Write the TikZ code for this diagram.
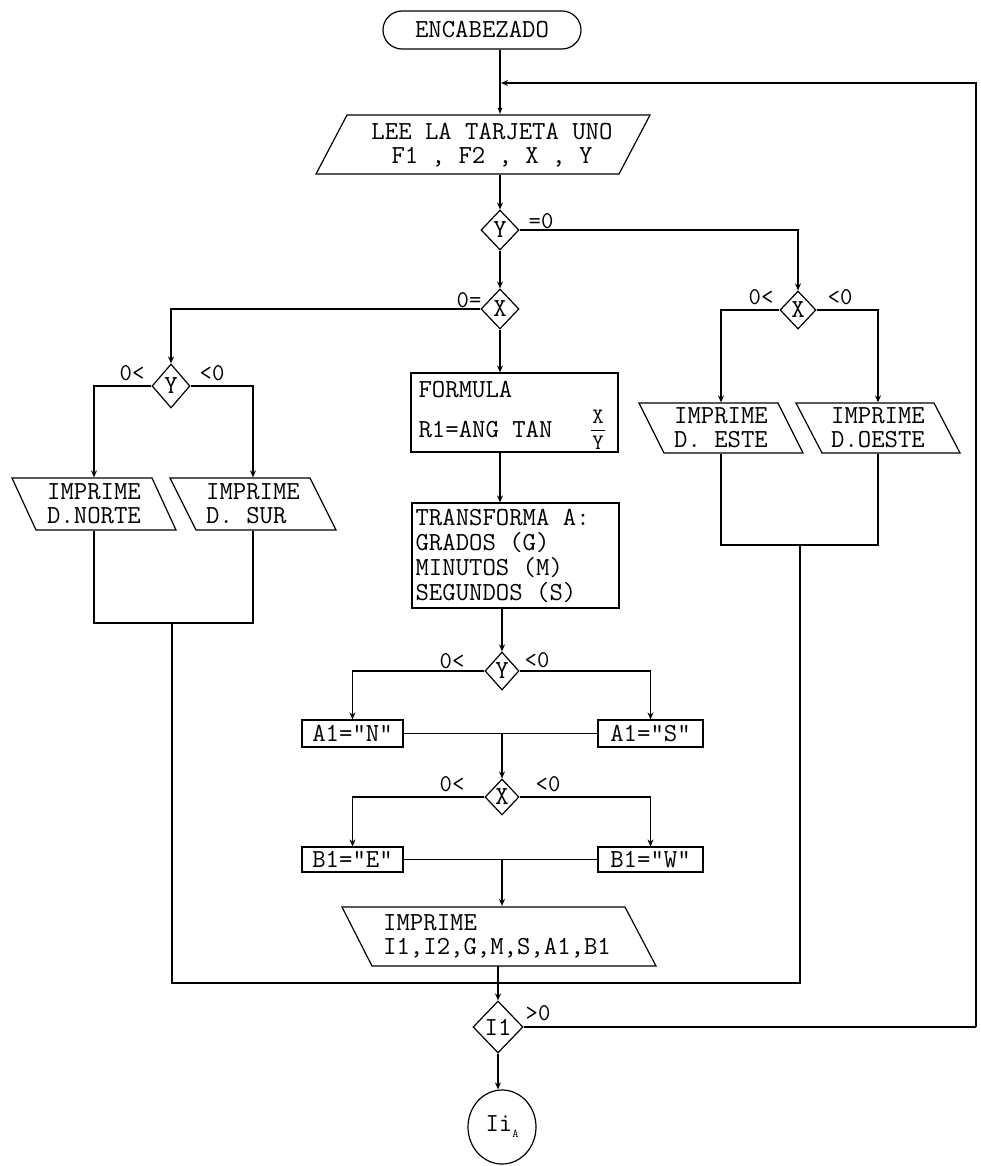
\documentclass[tikz,border=0pt]{standalone}
\usepackage{fontspec}
\usetikzlibrary{arrows.meta,shapes.geometric,shapes.misc}
\begin{document}
\begin{tikzpicture}[x=1pt,y=-1pt,line width=1.2pt,
  every node/.style={inner sep=0pt,font=\ttfamily\fontsize{26}{24}\selectfont},
  arr/.style={-{Stealth[open,length=7pt,width=6pt]}},
  farr/.style={-{Latex[length=7pt,width=5pt]}},
  term/.style={rounded rectangle,draw,minimum width=198,minimum height=38},
  dec/.style={diamond,draw,minimum width=38,minimum height=40},
  proc/.style={rectangle,draw},
  io/.style={rectangle,align=left},
  lbl/.style={font=\ttfamily\fontsize{24}{24}\selectfont},
  frac/.style={font=\ttfamily\fontsize{22}{22}\selectfont}]
\useasboundingbox (0,0) rectangle (980,1166);
\fill[white] (0,0) rectangle (980,1166);

% ---------- top ----------
\node[term] (enc) at (482,30) {ENCABEZADO};
\draw (347,115) -- (650,115) -- (619,174) -- (316,174) -- cycle;
\node[io,align=center,minimum height=59] (lee) at (492,145) {LEE LA TARJETA UNO\\F1 , F2 , X , Y};
\node[dec] (ydia) at (500,230) {Y};
\node[lbl] (l1) at (541,221) {=0};
\node[dec] (xdia) at (500,309) {X};
\node[lbl] (l2) at (469,300) {0=};

% ---------- right branch ----------
\node[dec,minimum width=36,minimum height=38] (rdia) at (798,310) {X};
\node[lbl] (l3) at (761,297) {0<};
\node[lbl] (l4) at (840,297) {<0};
\draw (639,403) -- (778,403) -- (803,453) -- (664,453) -- cycle;
\node[io,minimum height=50] (este) at (721,428) {IMPRIME\\D. ESTE};
\draw (796,403) -- (934,403) -- (960,453) -- (822,453) -- cycle;
\node[io,minimum height=50] (oeste) at (878,428) {IMPRIME\\D.OESTE};

% ---------- left branch ----------
\node[dec,minimum height=44] (lydia) at (171,386) {Y};
\node[lbl] (l5) at (132,373) {0<};
\node[lbl] (l6) at (212,373) {<0};
\draw (12,478) -- (152,478) -- (176,530) -- (36,530) -- cycle;
\node[io,minimum height=52] (norte) at (94,504) {IMPRIME\\D.NORTE};
\draw (170,478) -- (310,478) -- (336,530) -- (196,530) -- cycle;
\node[io,minimum height=52] (sur) at (253,504) {IMPRIME\\D. SUR};

% ---------- centre ----------
\node[proc,minimum width=207,minimum height=79] (formula) at (514.5,412.5) {};
\node[anchor=west] (ft1) at (418,390) {FORMULA};
\node[anchor=west] (ft2) at (418,430) {R1=ANG TAN};
\node[frac] (fx) at (598,417) {X};
\node[frac] (fy) at (598,443) {Y};
\draw[line width=1pt] (591,430) -- (605,430);
\node[proc,minimum width=207,minimum height=105] (trans) at (515.5,555.5) {};
\node[anchor=west,align=left,font=\ttfamily\fontsize{26}{25}\selectfont] (tt) at (415,556)
  {TRANSFORMA A:\\GRADOS (G)\\MINUTOS (M)\\SEGUNDOS (S)};
\node[dec,minimum width=34,minimum height=38] (d3) at (502,671) {Y};
\node[lbl] (l7) at (452,661) {0<};
\node[lbl] (l8) at (537,660) {<0};
\node[proc,minimum width=101,minimum height=27] (a1) at (352.5,733.5) {A1="N"};
\node[proc,minimum width=105,minimum height=27] (a2) at (650.5,733.5) {A1="S"};
\node[dec,minimum width=34,minimum height=36] (d4) at (502,797) {X};
\node[lbl] (l9) at (452,784) {0<};
\node[lbl] (l10) at (548,784) {<0};
\node[proc,minimum width=101,minimum height=25] (b1) at (352.5,859.5) {B1="E"};
\node[proc,minimum width=105,minimum height=25] (b2) at (650.5,859.5) {B1="W"};
\draw (342,907) -- (625,907) -- (656,966) -- (372,966) -- cycle;
\node[io,minimum height=59] (imp) at (497,936) {IMPRIME\\I1,I2,G,M,S,A1,B1};
\node[dec,minimum width=50,minimum height=52] (i1) at (498,1027) {I1};
\node[lbl] (l11) at (538,1013) {>0};
\node[ellipse,draw,minimum width=68,minimum height=74] (fin) at (502,1127) {Ii\raisebox{-6pt}{\fontsize{12}{12}\selectfont A}};

% ---------- coordinates ----------
\coordinate (loopj) at (501,83);
\coordinate (rc1) at (976,1027);
\coordinate (rc2) at (976,83);
\coordinate (ljoin) at (172,623);
\coordinate (rjoin) at (800,545);
\coordinate (bj) at (498,983);

% ---------- connectors ----------
\draw[farr] (enc.south -| ydia) -- (lee.north -| ydia);
\draw[arr] (rc1) -- (rc2) -- (loopj);
\draw (i1.east) -- (rc1);
\draw[arr] (lee.south -| ydia) -- (ydia.north);
\draw[arr] (ydia.south) -- (xdia.north);
\draw[arr] (ydia.east) -| (rdia.north);
\draw[arr] (rdia.west) -| (este.north);
\draw[arr] (rdia.east) -| (oeste.north);
\draw (este.south) -- (este.south |- rjoin) -- (oeste.south |- rjoin) -- (oeste.south);
\draw (rjoin) |- (bj);
\draw[arr] (xdia.west) -| (lydia.north);
\draw[arr] (lydia.west) -| (norte.north);
\draw[arr] (lydia.east) -| (sur.north);
\draw (norte.south) -- (norte.south |- ljoin) -- (sur.south |- ljoin) -- (sur.south);
\draw (ljoin) |- (bj);
\draw[arr] (xdia.south) -- (formula.north -| xdia);
\draw[arr] (formula.south -| xdia) -- (trans.north -| xdia);
\draw[arr] (trans.south -| d3) -- (d3.north);
\draw[arr] (d3.west) -| (a1.north);
\draw[arr] (d3.east) -| (a2.north);
\draw (a1.east) -- (a2.west);
\draw[arr] (a1.east -| d4) -- (d4.north);
\draw[arr] (d4.west) -| (b1.north);
\draw[arr] (d4.east) -| (b2.north);
\draw (b1.east) -- (b2.west);
\draw[arr] (b1.east -| d4) -- (imp.north -| d4);
\draw[arr] (imp.south -| i1) -- (i1.north);
\draw[arr] (i1.south) -- (fin.north -| i1);
\end{tikzpicture}
\end{document}
